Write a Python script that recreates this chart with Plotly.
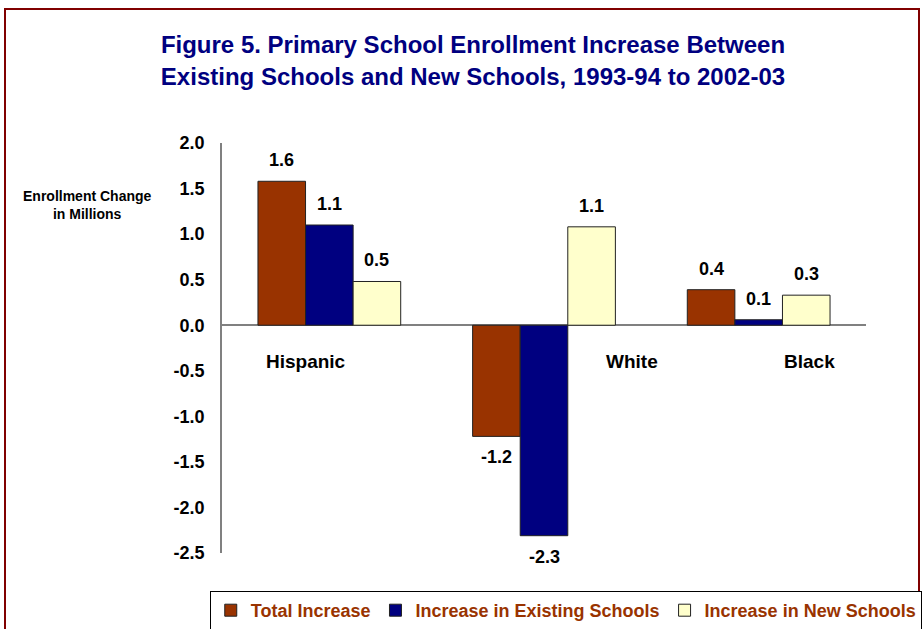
import plotly.graph_objects as go

categories = ["Hispanic", "White", "Black"]
total_increase = [1.58, -1.22, 0.39]
existing_schools = [1.10, -2.31, 0.06]
new_schools = [0.48, 1.08, 0.33]
series_names = ["Total Increase", "Increase in Existing Schools", "Increase in New Schools"]
series_colors = ["#993300", "#000080", "#FFFFCC"]
y_ticks = [2.0, 1.5, 1.0, 0.5, 0.0, -0.5, -1.0, -1.5, -2.0, -2.5]
y_tick_labels = ["2.0", "1.5", "1.0", "0.5", "0.0", "-0.5", "-1.0", "-1.5", "-2.0", "-2.5"]

FONT = "Arial, Liberation Sans, sans-serif"
W, H = 922, 629
ML, MR, MT, MB = 222, 56, 143, 76
BARGAP = 0.335

series_values = [total_increase, existing_schools, new_schools]

fig = go.Figure()
for name, vals, col in zip(series_names, series_values, series_colors):
    fig.add_trace(go.Bar(
        x=categories, y=vals, name=name,
        marker=dict(color=col, line=dict(color="#222222", width=1)),
    ))

# Value labels (placed at each bar's end through the axes, offset a little outward)
plot_w = W - ML - MR
plot_h = H - MT - MB
bar_px = plot_w / len(categories) * (1 - BARGAP) / len(series_values)
for i, vals in enumerate(series_values):
    for c, v in zip(categories, vals):
        fig.add_annotation(x=c, y=v, xref="x", yref="y", text=f"{v:.1f}",
                           showarrow=False, xanchor="center", yanchor="middle",
                           xshift=(i - 1) * bar_px, yshift=21 if v >= 0 else -21,
                           font=dict(family=FONT, size=18, color="black", weight="bold"))

fig.update_layout(
    width=W, height=H,
    margin=dict(l=ML, r=MR, t=MT, b=MB, autoexpand=False),
    paper_bgcolor="white", plot_bgcolor="white",
    barmode="group", bargap=BARGAP, bargroupgap=0,
    title=dict(
        text="Figure 5. Primary School Enrollment Increase Between<br>Existing Schools and New Schools, 1993-94 to 2002-03",
        font=dict(family=FONT, size=24, color="#000080", weight="bold"),
        x=0.513, xref="container", xanchor="center",
        y=0.915, yref="container", yanchor="top",
    ),
    showlegend=True,
    legend=dict(
        orientation="h", x=-0.019, xanchor="left", y=(H - MB - 591) / plot_h, yanchor="top",
        bordercolor="black", borderwidth=1, bgcolor="white",
        font=dict(family=FONT, size=18, color="#993300", weight="bold"),
        itemwidth=30, tracegroupgap=0,
    ),
)

fig.update_xaxes(showticklabels=False, showline=False, showgrid=False, zeroline=False,
                 ticks="")
fig.update_yaxes(range=[-2.5, 2.0], tickvals=y_ticks, ticktext=y_tick_labels,
                 showgrid=False, showline=True, linecolor="#808080", linewidth=1.5,
                 zeroline=True, zerolinecolor="#808080", zerolinewidth=1.5,
                 ticks="", ticklabelstandoff=12,
                 tickfont=dict(family=FONT, size=18, color="black", weight="bold"))

# Category labels just below zero line
label_shifts = {"Hispanic": -23, "White": 88, "Black": 51}
for c in categories:
    fig.add_annotation(x=c, y=0, xref="x", yref="y", text=c, showarrow=False,
                       xanchor="center", yanchor="middle",
                       xshift=label_shifts[c], yshift=-36,
                       font=dict(family=FONT, size=19, color="black", weight="bold"))

fig.add_annotation(xref="paper", yref="paper", x=(87 - ML) / plot_w, y=(H - MB - 205) / plot_h,
                   text="Enrollment Change<br>in Millions", showarrow=False,
                   xanchor="center", yanchor="middle",
                   font=dict(family=FONT, size=14, color="black", weight="bold"))

# Outer dark-red border
fig.add_shape(type="rect", xref="paper", yref="paper",
              x0=(5 - ML) / plot_w, x1=(919 - ML) / plot_w,
              y0=(H - MB - 640) / plot_h, y1=(H - MB - 9) / plot_h,
              line=dict(color="#800000", width=2), layer="below")

fig.write_html("out.html", config={"displayModeBar": False},
               post_script="document.body.style.margin='0';document.body.style.overflow='hidden';")
